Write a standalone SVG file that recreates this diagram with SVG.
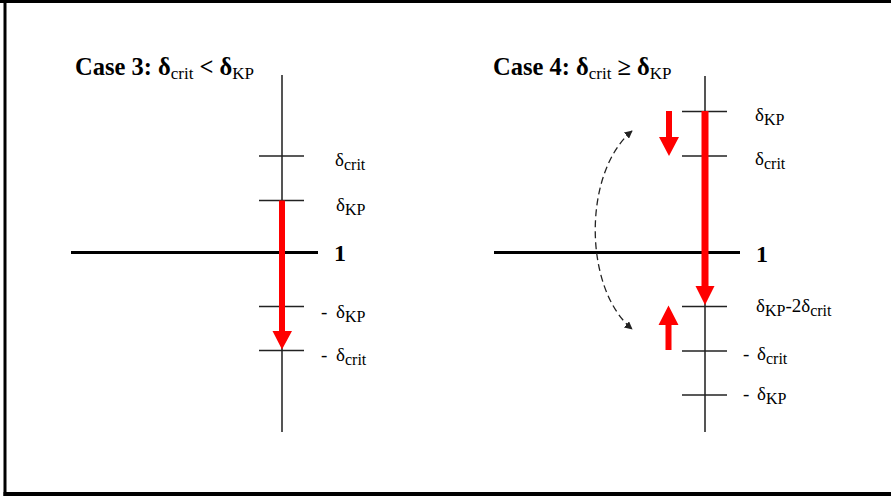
<svg xmlns="http://www.w3.org/2000/svg" width="891" height="497" viewBox="0 0 891 497">
<style>
  text { font-family: "Liberation Serif", "Times New Roman", serif; fill: #000; }
  .title { font-size: 24.5px; font-weight: bold; }
  .tsub { font-size: 17px; font-weight: normal; }
  .lbl { font-size: 19px; }
  .sub { font-size: 16px; }
  .one { font-size: 24px; font-weight: bold; }
  .axis { stroke: #555; stroke-width: 2; fill: none; }
  .tick { stroke: #222; stroke-width: 1.5; fill: none; }
  .hline { stroke: #000; stroke-width: 3; fill: none; }
  .red { fill: #ff0000; stroke: none; }
  .dash { stroke: #222; stroke-width: 1.3; stroke-dasharray: 7 4; fill: none; }
  .frame { stroke: #000; fill: none; }
</style>
<defs>
  <marker id="ah" viewBox="0 0 10 10" refX="9" refY="5" markerWidth="8" markerHeight="8" markerUnits="userSpaceOnUse" orient="auto-start-reverse">
    <path d="M0,0 L10,5 L0,10 Z" fill="#222"/>
  </marker>
</defs>

<rect width="891" height="497" fill="#fff"/>
<g id="frame">
  <line class="frame" x1="0" y1="1.5" x2="891" y2="1.5" stroke-width="3"/>
  <line class="frame" x1="5" y1="0" x2="5" y2="496" stroke-width="3"/>
  <line class="frame" x1="3.5" y1="494" x2="891" y2="494" stroke-width="4"/>
</g>

<g id="case3">
  <g id="case3-title">
    <text class="title" x="75" y="75">Case 3: δ<tspan class="tsub" dy="4">crit</tspan><tspan dy="-4"> &lt; δ</tspan><tspan class="tsub" dy="4">KP</tspan></text>
  </g>
  <g id="case3-axis">
    <line class="axis" x1="282" y1="75" x2="282" y2="432"/>
    <line class="hline" x1="71" y1="252.5" x2="318" y2="252.5"/>
    <line class="tick" x1="259" y1="156" x2="304" y2="156"/>
    <line class="tick" x1="259" y1="200.5" x2="304" y2="200.5"/>
    <line class="tick" x1="259" y1="306.5" x2="304" y2="306.5"/>
    <line class="tick" x1="259" y1="350.5" x2="304" y2="350.5"/>
  </g>
  <g id="case3-labels">
    <text class="lbl" x="335" y="166">δ<tspan class="sub" dy="4">crit</tspan></text>
    <text class="lbl" x="336" y="211">δ<tspan class="sub" dy="4">KP</tspan></text>
    <text class="one" x="334" y="261">1</text>
    <text class="lbl" y="318"><tspan x="321">-</tspan><tspan x="336">δ</tspan><tspan class="sub" dy="4">KP</tspan></text>
    <text class="lbl" y="361"><tspan x="321">-</tspan><tspan x="336">δ</tspan><tspan class="sub" dy="4">crit</tspan></text>
  </g>
  <g id="case3-arrow">
    <path class="red" d="M279,200.5 L285,200.5 L285,331 L292,331 L282,349.5 L272.5,331 L279,331 Z"/>
  </g>
</g>

<g id="case4">
  <g id="case4-title">
    <text class="title" x="493" y="75">Case 4: δ<tspan class="tsub" dy="4">crit</tspan><tspan dy="-4"> ≥ δ</tspan><tspan class="tsub" dy="4">KP</tspan></text>
  </g>
  <g id="case4-axis">
    <line class="axis" x1="705" y1="76" x2="705" y2="432"/>
    <line class="hline" x1="494" y1="252.5" x2="740" y2="252.5"/>
    <line class="tick" x1="682" y1="111.5" x2="727" y2="111.5"/>
    <line class="tick" x1="682" y1="156" x2="727" y2="156"/>
    <line class="tick" x1="682" y1="306.5" x2="727" y2="306.5"/>
    <line class="tick" x1="682" y1="351" x2="727" y2="351"/>
    <line class="tick" x1="682" y1="395" x2="727" y2="395"/>
  </g>
  <g id="case4-labels">
    <text class="lbl" x="755" y="121">δ<tspan class="sub" dy="4">KP</tspan></text>
    <text class="lbl" x="755" y="165">δ<tspan class="sub" dy="4">crit</tspan></text>
    <text class="one" x="756" y="262">1</text>
    <text class="lbl" x="756" y="312">δ<tspan class="sub" dy="4">KP</tspan><tspan dy="-4">-2δ</tspan><tspan class="sub" dy="4">crit</tspan></text>
    <text class="lbl" y="360"><tspan x="743">-</tspan><tspan x="757">δ</tspan><tspan class="sub" dy="4">crit</tspan></text>
    <text class="lbl" y="400"><tspan x="743">-</tspan><tspan x="757">δ</tspan><tspan class="sub" dy="4">KP</tspan></text>
  </g>
  <g id="case4-arrows">
    <path class="red" d="M701.5,111 L708.5,111 L708.5,286 L714.5,286 L705,305 L695.5,286 L701.5,286 Z"/>
    <path class="red" d="M666,111 L672,111 L672,137 L679,137 L669,156 L659,137 L666,137 Z"/>
    <path class="red" d="M665.5,350 L671.5,350 L671.5,325 L678.5,325 L668.5,305.5 L658.5,325 L665.5,325 Z"/>
  </g>
</g>

<g id="connectors">
  <path class="dash" d="M632,131 C583,172 583,288 632,329" marker-start="url(#ah)" marker-end="url(#ah)"/>
</g>
</svg>
